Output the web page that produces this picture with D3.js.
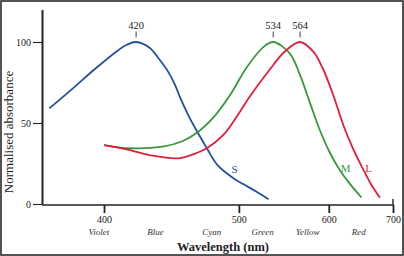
<!DOCTYPE html>
<html><head><meta charset="utf-8">
<script src="https://cdn.jsdelivr.net/npm/d3@7"></script>
<style>
html,body{margin:0;padding:0;background:#fff;}
svg text{font-family:"Liberation Serif","Times New Roman",serif !important;}
</style></head>
<body>
<script>
// ---- data ----
const sWave = [370,383,394,408,414,420,429,436,442,447,451,458,465,472,481,495,504,517,529];
const sVal  = [59,72,82.7,94.5,98.3,100,96.5,89,81.7,73.7,65.5,53.5,43.5,34.4,24,15.9,12.3,7.6,3];
const mWave = [400,416,438,453,465,477,492,507,524,534,552,564,576,588,601,615,629,647];
const mVal  = [36.4,34.4,35.4,38.9,44.6,53,67.3,84,97,100,93,79.6,62.3,46,32.1,21,12.7,4];
const lWave = [400,416,429,450,463,472,486,501,510,530,546,564,580,592,606,620,634,649,663,677];
const lVal  = [36.4,33.3,30.2,28.2,31.3,34.4,42.6,57,66,82.7,93.8,100,94,83.8,67.3,48.8,34.4,22,11.7,3.9];
const peakLabels = [420,534,564];
const majorTicks = [400,500,600,700];
const midTicks = [450,550,650];
const minorTicks = d3.range(370,701,10);
const yTicks = [0,50,100];
const colorNames = ["Violet","Blue","Cyan","Green","Yellow","Red"];
const colorNameWave = [397,433,476,523,573,643];
const curveNames = ["S","M","L"];
const curveNameWave = [496,623.5,658.5];
const curveNameVal = [19,19.5,19.5];

// ---- layout ----
const W=404,H=256;
const left=42, axisY=205;
const svg=d3.select("body").append("svg").attr("width",W).attr("height",H);
svg.append("rect").attr("x",1).attr("y",1).attr("width",W-2).attr("height",H-2)
  .attr("fill","#fff").attr("stroke","#2a2a2a").attr("stroke-width",1.6);

const xs=d3.scaleLinear().domain([1/400,1/700]).range([104,393]);
const x=l=>xs(1/l);
const y=d3.scaleLinear().domain([0,120]).range([204,9.6]);

const ink="#222";
// x axis ticks
const gx=svg.append("g").attr("transform",`translate(0,${axisY})`);
gx.call(d3.axisBottom(xs).tickValues(minorTicks.map(l=>1/l)).tickSize(4).tickFormat(""))
  .call(g=>g.select(".domain").remove());
gx.call(d3.axisBottom(xs).tickValues(midTicks.map(l=>1/l)).tickSize(7).tickFormat(""))
  .call(g=>g.select(".domain").remove());
gx.call(d3.axisBottom(xs).tickValues(majorTicks.map(l=>1/l)).tickSize(8).tickFormat(d=>Math.round(1/d)))
  .call(g=>g.select(".domain").remove());
gx.selectAll("line").attr("stroke",ink).attr("stroke-width",1.1);
gx.selectAll(".tick").filter(d=>majorTicks.includes(Math.round(1/d))).select("line").attr("stroke-width",1.8);
gx.selectAll("text").attr("font-size",10).attr("fill",ink).attr("y",11);
gx.append("line").attr("x1",left).attr("x2",x(700)+0.5).attr("y1",0).attr("y2",0)
  .attr("stroke",ink).attr("stroke-width",1.6);
gx.append("line").attr("x1",x(700)).attr("x2",x(700)).attr("y1",-6).attr("y2",0)
  .attr("stroke",ink).attr("stroke-width",1.4);

// y axis
const gy=svg.append("g").attr("transform",`translate(${left},0)`);
gy.call(d3.axisLeft(y).tickValues(yTicks).tickSize(9).tickSizeOuter(0));
gy.select(".domain").attr("stroke",ink).attr("stroke-width",2);
gy.selectAll("line").attr("stroke",ink).attr("stroke-width",1.1);
gy.selectAll("text").attr("font-size",10).attr("fill",ink).attr("x",-11);

// color names
svg.append("g").selectAll("text").data(colorNames).join("text")
  .attr("x",(d,i)=>x(colorNameWave[i])).attr("y",235).attr("text-anchor","middle")
  .attr("font-style","italic").attr("font-size",9).attr("fill","#333").text(d=>d);

// axis titles
svg.append("text").attr("x",223).attr("y",251).attr("text-anchor","middle")
  .attr("font-size",12.5).attr("font-weight","bold").attr("fill","#222").text("Wavelength (nm)");
svg.append("text").attr("transform","translate(13,132) rotate(-90)").attr("text-anchor","middle")
  .attr("font-size",13).attr("fill","#222").text("Normalised absorbance");

// curves
const line=d3.line().x(d=>x(d[0])).y(d=>y(d[1])).curve(d3.curveCatmullRom.alpha(0.5));
const series=[
  {w:sWave,v:sVal,c:"#23509c"},
  {w:mWave,v:mVal,c:"#3a983c"},
  {w:lWave,v:lVal,c:"#e01f3d"}
];
svg.append("g").selectAll("path").data(series).join("path")
  .attr("d",s=>line(s.w.map((w,i)=>[w,s.v[i]])))
  .attr("fill","none").attr("stroke",s=>s.c).attr("stroke-width",1.8);

// curve names
svg.append("g").selectAll("text").data(curveNames).join("text")
  .attr("x",(d,i)=>x(curveNameWave[i])).attr("y",(d,i)=>y(curveNameVal[i]))
  .attr("text-anchor","middle").attr("font-size",11).attr("fill",(d,i)=>series[i].c).text(d=>d);

// peak labels
const pk=svg.append("g").selectAll("g").data(peakLabels).join("g");
pk.append("text").attr("x",d=>x(d)).attr("y",29).attr("text-anchor","middle")
  .attr("font-size",10.5).attr("fill","#222").text(d=>d);
pk.append("line").attr("x1",d=>x(d)).attr("x2",d=>x(d)).attr("y1",31.5).attr("y2",37.5)
  .attr("stroke","#444").attr("stroke-width",1);
</script>
</body></html>
